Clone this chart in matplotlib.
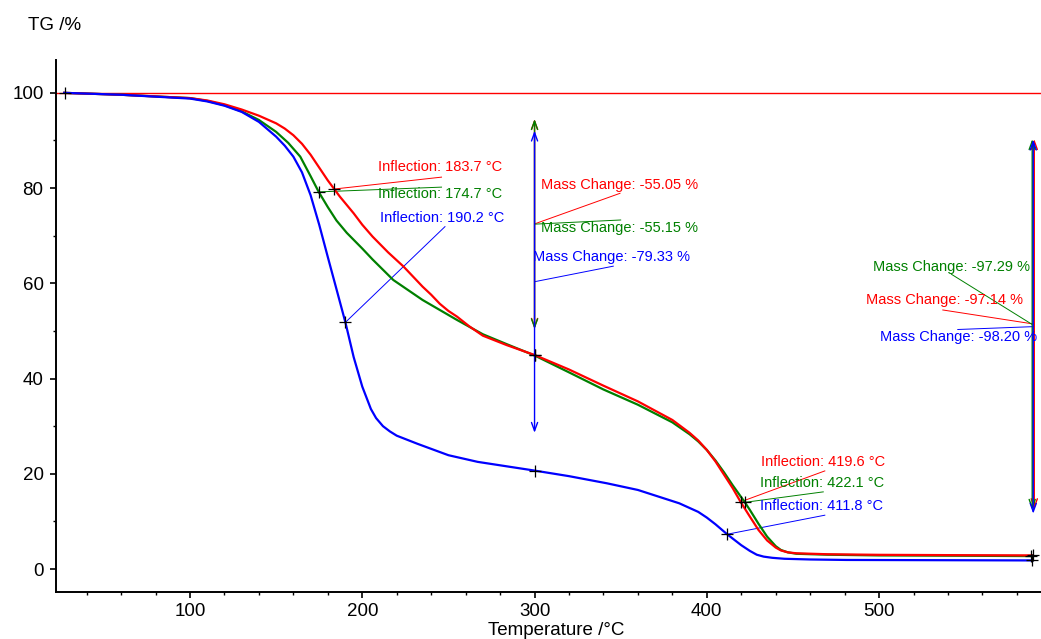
import numpy as np
import matplotlib
matplotlib.use("Agg")
import matplotlib.pyplot as plt
from matplotlib.ticker import MultipleLocator

plt.rcParams['font.family'] = ['Liberation Sans', 'DejaVu Sans']

# ---- data (temperature /°C, TG /%) ----
t_red = [27, 60, 100, 110, 120, 130, 140, 150, 155, 160, 165, 170, 175, 180, 183.7, 187,
         195, 200, 206, 215, 224, 235, 240, 245, 250, 255, 262, 270, 284, 300, 320,
         340, 360, 380, 390, 395, 400, 405, 410, 415, 419.6, 425, 430, 435, 440, 443,
         447, 452, 470, 500, 550, 589]
tg_red = [100, 99.6, 98.9, 98.4, 97.6, 96.5, 95.2, 93.6, 92.5, 91.1, 89.3, 87.0, 84.3, 81.6, 79.8, 78.2,
          74.7, 72.3, 69.8, 66.5, 63.5, 59.3, 57.6, 55.7, 54.2, 53.0, 51.0, 49.0, 47.0, 44.95, 41.9,
          38.5, 35.2, 31.3, 28.6, 27.0, 25.0, 22.6, 19.8, 17.0, 14.1,
          11.0, 8.2, 6.0, 4.5, 3.9, 3.5, 3.3, 3.1, 2.98, 2.9, 2.86]

t_green = [27, 60, 100, 110, 120, 130, 140, 150, 157, 164, 170, 174.7, 180, 185, 191,
           200, 206, 218, 235, 255, 270, 284, 300, 320, 340, 360, 380, 390, 395, 400,
           405, 410, 415, 422.1, 425, 430, 435, 440, 443, 447, 452, 470, 500, 550, 589]
tg_green = [100, 99.6, 98.9, 98.3, 97.4, 96.1, 94.3, 91.8, 89.5, 86.6, 82.5, 79.2, 76.0, 73.2, 70.6,
            67.3, 65.0, 60.7, 56.5, 52.3, 49.3, 47.2, 44.85, 41.3, 37.7, 34.5, 30.8, 28.3, 26.8, 25.0,
            22.8, 20.3, 17.6, 14.0, 12.4, 9.5, 6.8, 4.8, 4.0, 3.5, 3.2, 3.0, 2.85, 2.78, 2.71]

t_blue = [27, 60, 100, 110, 120, 130, 140, 150, 155, 160, 165, 170, 175, 180, 185,
          190.2, 195, 200, 205, 208, 212, 216, 220, 232, 250, 267, 285, 300, 320, 342,
          360, 372, 384, 395, 400, 405, 411.8, 420, 425, 429, 433, 438, 445, 460, 481, 589]
tg_blue = [100, 99.6, 98.8, 98.2, 97.3, 96.0, 93.9, 90.8, 88.9, 86.6, 83.3, 78.5, 72.3, 65.5, 58.8,
           51.8, 44.5, 38.3, 33.6, 31.7, 30.0, 28.9, 28.0, 26.3, 23.9, 22.5, 21.5, 20.67, 19.5, 18.0,
           16.6, 15.2, 13.8, 12.0, 10.8, 9.4, 7.3, 5.0, 3.8, 3.0, 2.6, 2.35, 2.15, 2.0, 1.9, 1.80]

colors = {'red': '#ff0000', 'green': '#008000', 'blue': '#0000ff'}
curves = {'red': (t_red, tg_red), 'green': (t_green, tg_green), 'blue': (t_blue, tg_blue)}

# evaluation results
infl_1 = {'red': 183.7, 'green': 174.7, 'blue': 190.2}
infl_2 = {'red': 419.6, 'green': 422.1, 'blue': 411.8}
mass_300 = {'red': -55.05, 'green': -55.15, 'blue': -79.33}
mass_end = {'red': -97.14, 'green': -97.29, 'blue': -98.20}
t_step = 300
t_end = {'red': 590.1, 'green': 588.9, 'blue': 589.5}   # arrows sit side by side

# label positions (layout): text left/centre, leader line end
lab_infl_1 = {'red': ((209, 84.4), (246, 82.3)),
              'green': ((209, 78.7), (246, 80.2)),
              'blue': ((210.3, 73.7), (248, 71.9))}
lab_mass_300 = {'red': ((303.7, 80.6), (349.6, 78.9)),
                'green': ((303.7, 71.6), (350, 73.3)),
                'blue': ((299.1, 65.5), (345.7, 63.6))}
lab_mass_end = {'green': ((496.4, 63.4), (542, 61.9)),
                'red': ((492.3, 56.5), (537, 54.4)),
                'blue': ((500.5, 48.7), (545.7, 50.3))}
lab_infl_2 = {'red': ((431.4, 22.5), (468.5, 20.6)),
              'green': ((430.8, 18.1), (467.6, 16.2)),
              'blue': ((430.8, 13.2), (468.5, 11.3))}

fig = plt.figure(figsize=(10.41, 6.39), dpi=100)
ax = fig.add_axes([56/1041, 47/639, 985/1041, 532/639])

ax.axhline(100, color=colors['red'], lw=1.0, zorder=1)

for name in ['green', 'red', 'blue']:
    t, tg = curves[name]
    ax.plot(t, tg, color=colors[name], lw=1.6, zorder=3)

def tg_at(name, temp):
    t, tg = curves[name]
    return np.interp(temp, t, tg)

fs = 10.5
for name in ['red', 'green', 'blue']:
    c = colors[name]
    # inflections
    for infl, labs in ((infl_1, lab_infl_1), (infl_2, lab_infl_2)):
        x0 = infl[name]
        y0 = tg_at(name, x0)
        (tx, ty), (lx, ly) = labs[name]
        ax.plot([x0, lx], [y0, ly], color=c, lw=0.7, zorder=2)
        ax.plot(x0, y0, marker='+', color='black', ms=9, mew=0.9, zorder=5)
        ax.text(tx, ty, 'Inflection: %.1f °C' % x0, color=c, fontsize=fs,
                ha='left', va='center', zorder=6)

    # mass change arrows (centred, 80 % length)
    for xm, dm, labs in ((t_step, mass_300[name], lab_mass_300),
                         (t_end[name], mass_end[name], lab_mass_end)):
        mid = 100 + dm / 2
        half = 0.4 * abs(dm)
        ax.annotate('', xy=(xm, mid + half), xytext=(xm, mid - half),
                    arrowprops=dict(arrowstyle='<->,head_length=0.6,head_width=0.22',
                                    color=c, lw=1.0, shrinkA=0, shrinkB=0,
                                    mutation_scale=10),
                    zorder=4 if name == 'blue' else 3)
        (tx, ty), (lx, ly) = labs[name]
        ax.plot([xm, lx], [mid, ly], color=c, lw=0.7, zorder=2)
        ax.text(tx, ty, 'Mass Change: %.2f %%' % dm, color=c, fontsize=fs,
                ha='left', va='center', zorder=6)

    ax.plot(t_step, tg_at(name, t_step), marker='+', color='black', ms=9, mew=0.9, zorder=5)
    ax.plot(t_end[name] - 0.6, tg_at(name, 589), marker='+', color='black', ms=9, mew=0.9, zorder=5)

ax.plot(27.5, 100, marker='+', color='black', ms=9, mew=0.9, zorder=5)

ax.set_xlim(22.2, 594)
ax.set_ylim(-4.83, 106.9)
ax.xaxis.set_major_locator(MultipleLocator(100))
ax.xaxis.set_minor_locator(MultipleLocator(20))
ax.yaxis.set_major_locator(MultipleLocator(20))
ax.yaxis.set_minor_locator(MultipleLocator(10))
ax.set_xticks([100, 200, 300, 400, 500])
ax.tick_params(which='major', direction='out', length=4, width=1.2, labelsize=13.5, pad=4)
ax.tick_params(which='minor', direction='out', length=2.3, width=1.0)
ax.tick_params(axis='y', which='major', pad=5)
for s in ['top', 'right']:
    ax.spines[s].set_visible(False)
for s in ['left', 'bottom']:
    ax.spines[s].set_linewidth(1.4)

fig.text(28/1041, 1 - 25/639, 'TG /%', fontsize=13.5, ha='left', va='center')
fig.text(556/1041, 1 - 622/639, 'Temperature /°C', fontsize=13.5, ha='center', va='top')

fig.savefig('out.png', dpi=100)
